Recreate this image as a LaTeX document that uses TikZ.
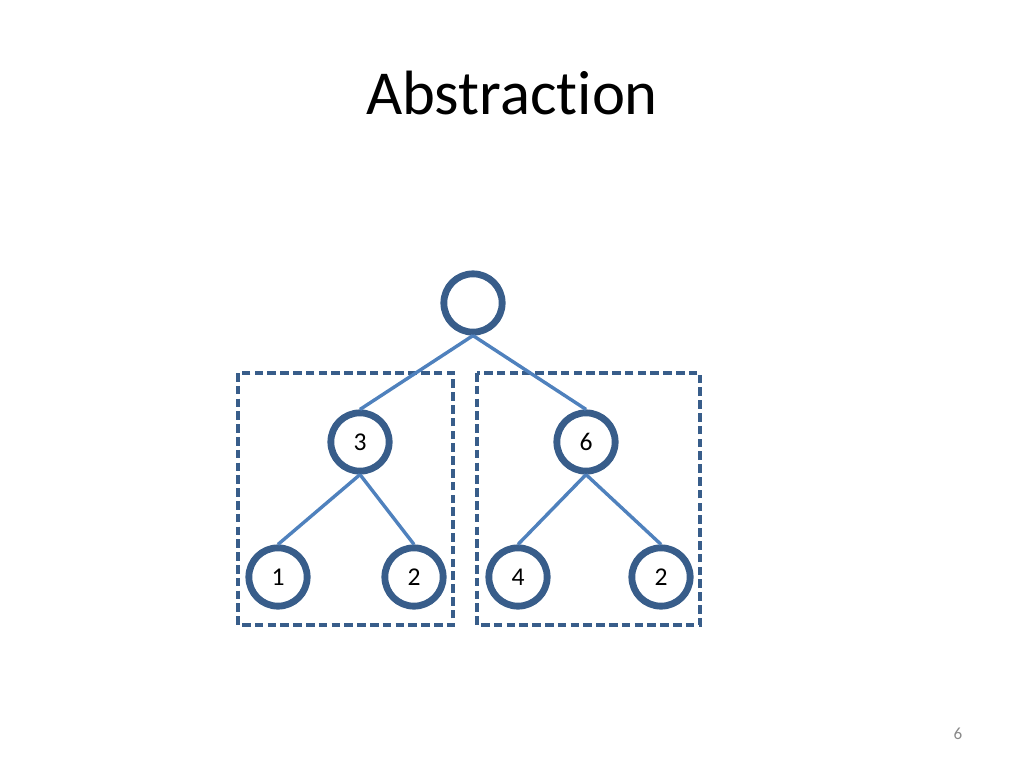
\documentclass[tikz,border=0pt]{standalone}
\usepackage{fontspec}
\setmainfont{Carlito}[Ligatures=NoCommon]
\definecolor{circblue}{HTML}{385D8A}
\definecolor{lineblue}{HTML}{4F81BD}
\definecolor{pagegray}{HTML}{898989}
\begin{document}
\begin{tikzpicture}[x=0.703125pt,y=-0.703125pt,
  treenode/.style={circle,draw=circblue,line width=4.8pt,fill=white,minimum size=41pt,inner sep=0pt,font=\fontsize{18}{20}\selectfont},
  edge/.style={draw=lineblue,line width=2.4pt},
  dashbox/.style={draw=circblue,line width=2.6pt,dash pattern=on 6pt off 3pt}]
\useasboundingbox (0,0) rectangle (1024,768);
\node[anchor=base,font=\fontsize{44}{50}\selectfont] (title) at (512,115) {Abstraction};
\draw[dashbox] (238,373) rectangle (453,625);
\draw[dashbox] (477,373) rectangle (700,625);
\node[treenode] (root) at (473,303) {};
\node[treenode] (n3) at (360,442) {3};
\node[treenode] (n6) at (586,442) {6};
\node[treenode] (n1) at (278,577) {1};
\node[treenode] (n2a) at (414,577) {2};
\node[treenode] (n4) at (518,577) {4};
\node[treenode] (n2b) at (661,577) {2};
\draw[edge] (root.south) -- (n3.north);
\draw[edge] (root.south) -- (n6.north);
\draw[edge] (n3.south) -- (n1.north);
\draw[edge] (n3.south) -- (n2a.north);
\draw[edge] (n6.south) -- (n4.north);
\draw[edge] (n6.south) -- (n2b.north);
\node[text=pagegray,font=\fontsize{12}{14}\selectfont] (page) at (958,734) {6};
\end{tikzpicture}
\end{document}
